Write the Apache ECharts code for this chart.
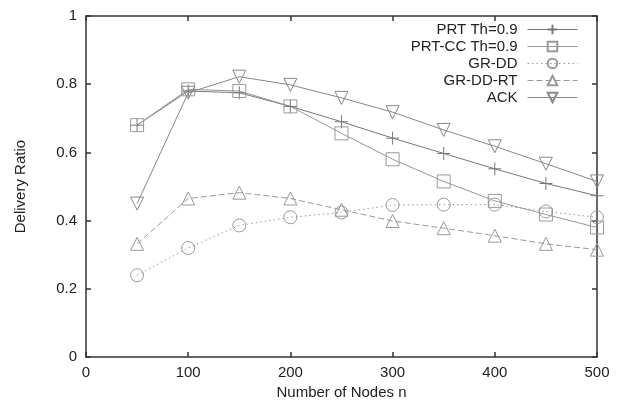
<!DOCTYPE html>
<html><head><meta charset="utf-8">
<script src="https://cdn.jsdelivr.net/npm/echarts@6/dist/echarts.min.js"></script>
<style>html,body{margin:0;padding:0;background:#fff}#c{width:626px;height:405px}</style>
</head><body><div id="c"></div>
<script>
const nodes = [50,100,150,200,250,300,350,400,450,500];
const prt   = [0.68,0.78,0.775,0.735,0.69,0.642,0.597,0.552,0.509,0.473];
const prtcc = [0.68,0.785,0.78,0.735,0.656,0.58,0.515,0.458,0.418,0.38];
const grdd  = [0.24,0.32,0.386,0.41,0.424,0.446,0.447,0.447,0.427,0.41];
const grddrt= [0.332,0.465,0.482,0.465,0.432,0.399,0.378,0.356,0.332,0.315];
const ack   = [0.45,0.775,0.822,0.798,0.76,0.718,0.666,0.618,0.567,0.515];
const names = ['PRT Th=0.9','PRT-CC Th=0.9','GR-DD','GR-DD-RT','ACK'];
const xTicks = [0,100,200,300,400,500];
const yTicks = [0,0.2,0.4,0.6,0.8,1];

const font = 'Liberation Sans, Arial, sans-serif';
const pair = arr => arr.map((v,i)=>[nodes[i], v]);
function mk(name, data, symbol, lineType, color, rotate){
  return {
    name, type:'line', data: pair(data), symbol, symbolSize: 13, symbolRotate: rotate||0,
    lineStyle:{color, width:1, type: lineType},
    itemStyle:{color:'rgba(255,255,255,0)', borderColor: color, borderWidth:1},
    emphasis:{disabled:true}, animation:false
  };
}
const plus = 'path://M0,-10L0,10M-10,0L10,0';
const series = [
  mk(names[0], prt, plus, 'solid', '#777'),
  mk(names[1], prtcc, 'rect', 'solid', '#999'),
  mk(names[2], grdd, 'circle', [1.5,3], '#999'),
  mk(names[3], grddrt, 'triangle', [6,3], '#999'),
  mk(names[4], ack, 'triangle', 'solid', '#888', 180)
];
const axisCommon = {
  axisLine:{show:true, onZero:false, lineStyle:{color:'#333', width:1.5}},
  axisTick:{show:true, inside:true, length:5, lineStyle:{color:'#333', width:1.5}},
  splitLine:{show:false}
};
const chart = echarts.init(document.getElementById('c'));
chart.setOption({
  backgroundColor:'#fff',
  textStyle:{fontFamily:font},
  grid:{left:86, right:29, top:16, bottom:45},
  legend:{
    orient:'vertical', right:48, top:22, align:'right', itemGap:2, padding:0,
    itemWidth:50, itemHeight:12,
    lineStyle:{width:1},
    textStyle:{fontFamily:font, fontSize:15, lineHeight:14, color:'#222', padding:[0,5,0,0]},
    data: names
  },
  xAxis:[{
    type:'value', min:0, max:500, interval:100, position:'bottom',
    name:'Number of Nodes n', nameLocation:'middle', nameGap:26,
    nameTextStyle:{fontFamily:font, fontSize:15, color:'#222'},
    axisLabel:{fontFamily:font, fontSize:15, color:'#222', margin:8, formatter: v=> xTicks.includes(v)? String(v):''},
    ...axisCommon
  },{
    type:'value', min:0, max:500, interval:100, position:'top',
    axisLabel:{show:false}, ...axisCommon
  }],
  yAxis:[{
    type:'value', min:0, max:1, interval:0.2, position:'left',
    name:'Delivery Ratio', nameLocation:'middle', nameGap:58,
    nameTextStyle:{fontFamily:font, fontSize:15, color:'#222'},
    axisLabel:{fontFamily:font, fontSize:15, color:'#222', margin:9,
      formatter: v=>{ const r=Math.round(v*10)/10; return yTicks.includes(r)? String(r):''; }},
    ...axisCommon
  },{
    type:'value', min:0, max:1, interval:0.2, position:'right',
    axisLabel:{show:false}, ...axisCommon
  }],
  series
});
</script></body></html>
